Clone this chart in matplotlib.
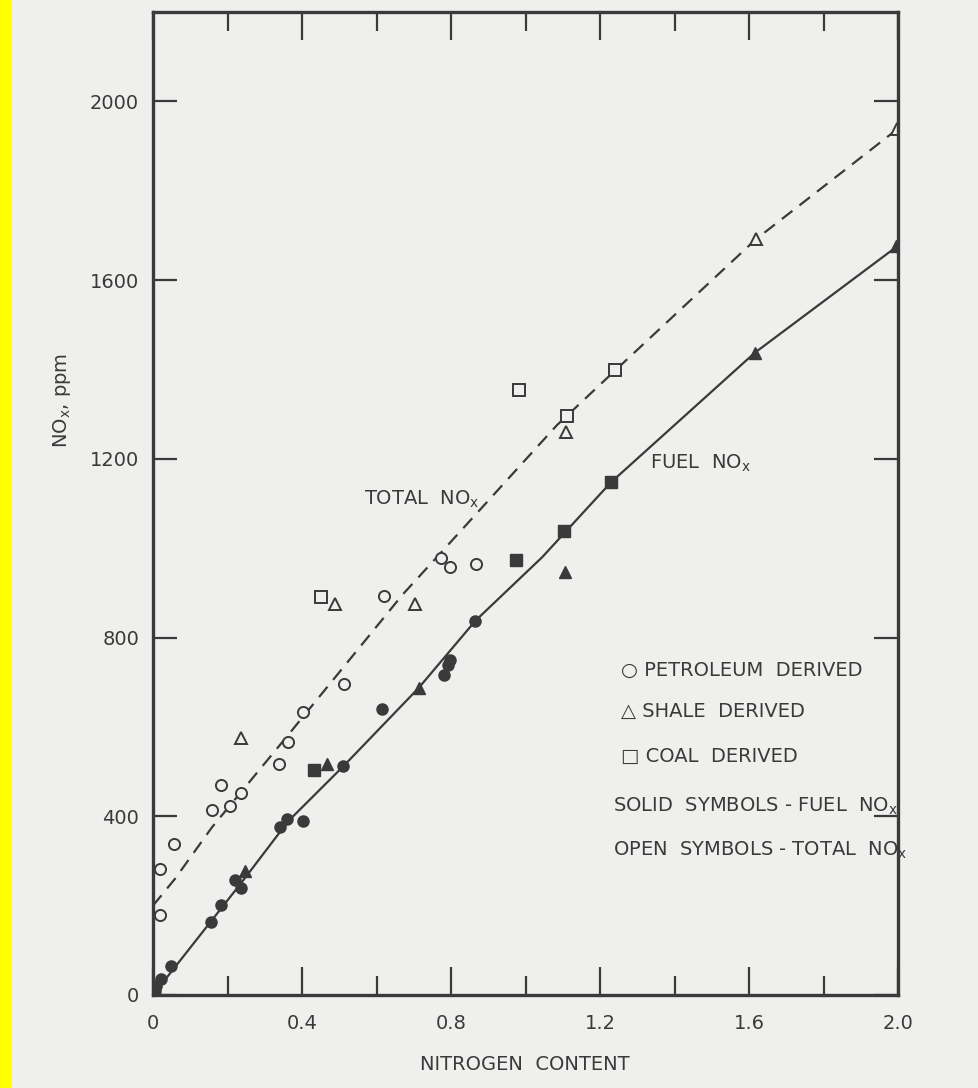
# NOx vs nitrogen content, fuel vs total
import numpy as np
import matplotlib.pyplot as plt
from matplotlib.ticker import MultipleLocator
from matplotlib.patches import Rectangle

# open symbols - total NOx
pet_total_x = [0.774, 0.797, 0.866, 0.619, 0.513, 0.403, 0.362, 0.338, 0.183, 0.237, 0.208, 0.157, 0.056, 0.020, 0.020]
pet_total_y = [978, 958, 964, 893, 697, 633, 566, 516, 469, 453, 422, 413, 337, 283, 180]
shale_total_x = [0.488, 0.703, 0.236, 1.109, 1.618, 1.998]
shale_total_y = [876, 874, 575, 1260, 1691, 1939]
coal_total_x = [0.450, 0.983, 1.111, 1.241]
coal_total_y = [891, 1355, 1296, 1398]

# solid symbols - fuel NOx
pet_fuel_x = [0.864, 0.798, 0.792, 0.781, 0.615, 0.511, 0.403, 0.359, 0.341, 0.220, 0.237, 0.182, 0.156, 0.047, 0.022, 0.008, 0.004]
pet_fuel_y = [837, 749, 738, 716, 641, 512, 389, 393, 377, 258, 239, 201, 164, 65, 36, 20, 9]
shale_fuel_x = [0.247, 0.467, 0.713, 1.107, 1.615, 1.995]
shale_fuel_y = [278, 517, 687, 947, 1437, 1677]
coal_fuel_x = [0.431, 0.974, 1.104, 1.229]
coal_fuel_y = [504, 973, 1039, 1147]

# hand drawn curves
total_line_x = [0.0, 0.059, 0.158, 0.356, 0.491, 0.671, 0.760, 1.084, 1.241, 1.618, 2.0]
total_line_y = [200, 260, 375, 575, 713, 897, 978, 1275, 1398, 1691, 1939]
fuel_line_x = [0.0, 0.237, 0.363, 0.511, 0.713, 0.866, 1.045, 1.229, 1.615, 2.0]
fuel_line_y = [0, 251, 389, 512, 687, 838, 980, 1147, 1437, 1677]

x_ticks = [0, 0.4, 0.8, 1.2, 1.6, 2.0]
x_labels = ["0", "0.4", "0.8", "1.2", "1.6", "2.0"]
y_ticks = [0, 400, 800, 1200, 1600, 2000]

ink = "#3a3a3a"
paper = "#efefed"

fig = plt.figure(figsize=(9.79, 10.88), dpi=100, facecolor=paper)
fig.patches.append(Rectangle((0, 0), 12 / 979, 1, transform=fig.transFigure,
                             facecolor="#ffff00", edgecolor="none", zorder=0))
ax = fig.add_axes([0.1563, 0.0855, 0.761, 0.9035])
ax.set_facecolor(paper)

ax.plot(total_line_x, total_line_y, color=ink, lw=1.6, ls=(0, (6, 4)))
ax.plot(fuel_line_x, fuel_line_y, color=ink, lw=1.6)

ms = 8
open_kw = dict(ls="none", mfc=paper, mec=ink, mew=1.4, ms=ms)
solid_kw = dict(ls="none", mfc=ink, mec=ink, mew=1.0, ms=ms)
ax.plot(pet_total_x, pet_total_y, marker="o", **open_kw)
ax.plot(shale_total_x, shale_total_y, marker="^", **open_kw)
ax.plot(coal_total_x, coal_total_y, marker="s", **open_kw)
ax.plot(pet_fuel_x, pet_fuel_y, marker="o", **solid_kw)
ax.plot(shale_fuel_x, shale_fuel_y, marker="^", **solid_kw)
ax.plot(coal_fuel_x, coal_fuel_y, marker="s", **solid_kw)

ax.set_xlim(0, 2.0)
ax.set_ylim(0, 2200)
ax.set_xticks(x_ticks)
ax.set_xticklabels(x_labels)
ax.xaxis.set_minor_locator(MultipleLocator(0.2))
ax.set_yticks(y_ticks)
ax.tick_params(which="major", direction="in", length=20, width=1.6, color=ink,
               top=True, right=True, labelsize=14, labelcolor=ink)
ax.tick_params(axis="x", which="major", pad=14)
ax.tick_params(axis="y", which="major", length=17, pad=10)
ax.tick_params(which="minor", direction="in", length=14, width=1.6, color=ink, top=True)
for s in ax.spines.values():
    s.set_linewidth(2.4)
    s.set_color(ink)

tk = dict(color=ink, fontsize=14)
ax.text(0.566, 1110, r"TOTAL  NO$_{\mathregular{x}}$", ha="left", va="center", **tk)
ax.text(1.335, 1190, r"FUEL  NO$_{\mathregular{x}}$", ha="left", va="center", **tk)
ax.text(1.257, 727, "○ PETROLEUM  DERIVED", ha="left", va="center", **tk)
ax.text(1.257, 634, "△ SHALE  DERIVED", ha="left", va="center", **tk)
ax.text(1.257, 533, "□ COAL  DERIVED", ha="left", va="center", **tk)
ax.text(1.235, 423, r"SOLID  SYMBOLS - FUEL  NO$_{\mathregular{x}}$", ha="left", va="center", **tk)
ax.text(1.235, 324, r"OPEN  SYMBOLS - TOTAL  NO$_{\mathregular{x}}$", ha="left", va="center", **tk)

fig.text(525 / 979, 1 - 1065 / 1088, "NITROGEN  CONTENT", ha="center", va="center", **tk)
fig.text(62 / 979, 1 - 400 / 1088, r"NO$_{\mathregular{x}}$, ppm", ha="center", va="center",
         rotation=90, **tk)

fig.savefig("out.png", dpi=100, facecolor=paper)
